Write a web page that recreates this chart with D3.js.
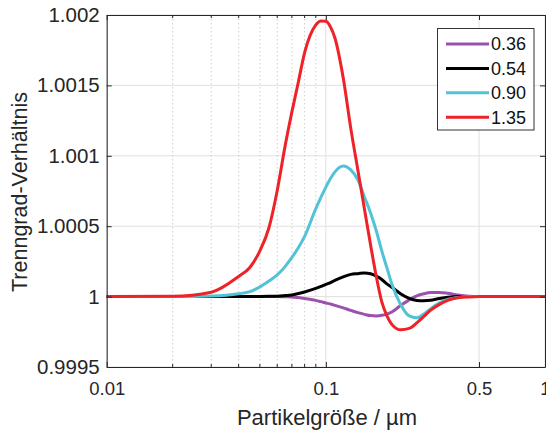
<!DOCTYPE html>
<html>
<head>
    <meta charset="utf-8">
    <title>Trenngrad-Verhältnis</title>
    <script src="https://d3js.org/d3.v7.min.js"></script>
    <style>
        body { margin: 0; background: #fff; }
        svg { display: block; font-family: "Liberation Sans", Arial, sans-serif; }
    </style>
</head>
<body>
    <div id="chart"></div>

    <script>
        // particle sizes in µm (shared x grid)
        var sizes = [0.01, 0.02, 0.03, 0.04,
                     0.045, 0.05, 0.055, 0.06, 0.065, 0.07, 0.075, 0.08,
                     0.09, 0.095, 0.1, 0.105,
                     0.11, 0.12, 0.13, 0.14, 0.15, 0.16, 0.17, 0.18, 0.19, 0.2,
                     0.22, 0.24, 0.26, 0.28, 0.3, 0.33, 0.36,
                     0.4, 0.45, 0.5, 0.6, 1];

        var series036 = [1, 1, 1, 1,
                         1, 1, 1, 1, 0.999999, 0.999998, 0.999993, 0.999987,
                         0.999973, 0.999964, 0.999955, 0.999947,
                         0.999938, 0.99992, 0.999902, 0.999886, 0.999874, 0.999865, 0.999863, 0.999867, 0.999876, 0.999891,
                         0.999938, 0.999977, 1.000005, 1.00002, 1.000029, 1.00003, 1.000024,
                         1.000012, 1.000003, 1, 1, 1];

        var series054 = [1, 1, 1, 1,
                         1, 1.000001, 1.000002, 1.000003, 1.000007, 1.000012, 1.000022, 1.000033,
                         1.000058, 1.000072, 1.000087, 1.0001,
                         1.000115, 1.00014, 1.000158, 1.000163, 1.000168, 1.000162, 1.000145, 1.000122, 1.00009, 1.000066,
                         1.000019, 0.999987, 0.999973, 0.999971, 0.999974, 0.999987, 0.999996,
                         1, 1, 1, 1, 1];

        var series090 = [1, 1, 1.000004, 1.00002,
                         1.000035, 1.000069, 1.000111, 1.000154, 1.000211, 1.000278, 1.000349, 1.000428,
                         1.000625, 1.000705, 1.000778, 1.000839,
                         1.000886, 1.000928, 1.0009, 1.00083, 1.000708, 1.000594, 1.000466, 1.000324, 1.000204, 1.00009,
                         0.999941, 0.999863, 0.999849, 0.999877, 0.999913, 0.999955, 0.99998,
                         0.999994, 1, 1, 1, 1];

        var series135 = [1, 1.000002, 1.000031, 1.000143,
                         1.000207, 1.000325, 1.000489, 1.000754, 1.00106, 1.001312, 1.001528, 1.001733,
                         1.00193, 1.001958, 1.001955, 1.001915,
                         1.001837, 1.001554, 1.001193, 1.000898, 1.000623, 1.000367, 1.00014, 0.999962, 0.999863, 0.999803,
                         0.999764, 0.999774, 0.999813, 0.999859, 0.999902, 0.999945, 0.999973,
                         0.999992, 0.999998, 1, 1, 1];

        var legendLabels = ["0.36", "0.54", "0.90", "1.35"];
        var colors = ["#9b52ad", "#000000", "#52c3d6", "#ee2229"];
        var allSeries = [series036, series054, series090, series135];

        var xTicks = [0.01, 0.1, 0.5, 1];
        var xMinor = [0.02, 0.03, 0.04, 0.05, 0.06, 0.07, 0.08, 0.09];
        var yTicks = [0.9995, 1, 1.0005, 1.001, 1.0015, 1.002];

        var width = 546, height = 432;
        var plotL = 106.7, plotR = 545, plotT = 15, plotB = 367;

        var svg = d3.select("#chart").append("svg")
            .attr("width", width)
            .attr("height", height);

        var x = d3.scaleLog().domain([0.01, 1]).range([plotL, plotR]);
        var y = d3.scaleLinear().domain([0.9995, 1.002]).range([plotB, plotT]);

        // grid
        var grid = svg.append("g");
        grid.selectAll(".ygrid").data(yTicks).enter().append("line")
            .attr("x1", plotL).attr("x2", plotR)
            .attr("y1", function(d) { return y(d); })
            .attr("y2", function(d) { return y(d); })
            .attr("stroke", "#e1e1e1").attr("stroke-width", 1);
        grid.selectAll(".xgrid").data(xTicks).enter().append("line")
            .attr("x1", function(d) { return x(d); })
            .attr("x2", function(d) { return x(d); })
            .attr("y1", plotT).attr("y2", plotB)
            .attr("stroke", "#e1e1e1").attr("stroke-width", 1);
        grid.selectAll(".xminor").data(xMinor).enter().append("line")
            .attr("x1", function(d) { return x(d); })
            .attr("x2", function(d) { return x(d); })
            .attr("y1", plotT).attr("y2", plotB)
            .attr("stroke", "#cfcfcf").attr("stroke-width", 1)
            .attr("stroke-dasharray", "1.5,2.5");

        // curves
        var line = d3.line()
            .x(function(d, i) { return x(sizes[i]); })
            .y(function(d) { return y(d); })
            .curve(d3.curveMonotoneX);

        svg.append("g").selectAll("path")
            .data(allSeries)
            .enter().append("path")
            .attr("d", line)
            .attr("fill", "none")
            .attr("stroke", function(d, i) { return colors[i]; })
            .attr("stroke-width", 3);

        // axes
        var axisColor = "#262626";
        var xAxis = svg.append("g")
            .attr("transform", "translate(0," + plotB + ")")
            .call(d3.axisBottom(x).tickValues(xTicks)
                .tickFormat(function(d) { return d3.format("")(d); })
                .tickSize(-5).tickSizeOuter(0).tickPadding(15));
        var yAxis = svg.append("g")
            .attr("transform", "translate(" + plotL + ",0)")
            .call(d3.axisLeft(y).tickValues(yTicks)
                .tickFormat(function(d) { return d3.format("")(+d.toFixed(4)); })
                .tickSize(-5).tickSizeOuter(0).tickPadding(7));
        var topAxis = svg.append("g")
            .attr("transform", "translate(0," + plotT + ")")
            .call(d3.axisTop(x).tickValues(xTicks).tickFormat("")
                .tickSize(-5).tickSizeOuter(0));
        var rightAxis = svg.append("g")
            .attr("transform", "translate(" + plotR + ",0)")
            .call(d3.axisRight(y).tickValues(yTicks).tickFormat("")
                .tickSize(-5).tickSizeOuter(0));

        // minor ticks on top and bottom
        [plotB, plotT].forEach(function(yy) {
            var dir = yy === plotB ? -3 : 3;
            svg.append("g").selectAll("line").data(xMinor).enter().append("line")
                .attr("x1", function(d) { return x(d); })
                .attr("x2", function(d) { return x(d); })
                .attr("y1", yy).attr("y2", yy + dir)
                .attr("stroke", axisColor);
        });

        [xAxis, yAxis, topAxis, rightAxis].forEach(function(a) {
            a.attr("font-family", null);
            a.selectAll("path, line").attr("stroke", axisColor);
            a.selectAll("text").attr("fill", axisColor);
        });
        xAxis.attr("font-size", 18.5);
        yAxis.attr("font-size", 20.5);

        // axis labels
        svg.append("text")
            .attr("x", 327)
            .attr("y", 425)
            .attr("text-anchor", "middle")
            .attr("font-size", 22)
            .attr("fill", axisColor)
            .text("Partikelgröße / µm");
        svg.append("text")
            .attr("transform", "translate(27,192) rotate(-90)")
            .attr("text-anchor", "middle")
            .attr("font-size", 21.5)
            .attr("fill", axisColor)
            .text("Trenngrad-Verhältnis");

        // legend
        var legend = svg.append("g");
        legend.append("rect")
            .attr("x", 437.5).attr("y", 28.5)
            .attr("width", 96.5).attr("height", 101.5)
            .attr("fill", "#fff")
            .attr("stroke", "#333").attr("stroke-width", 1);
        var rows = legend.selectAll(".row").data(legendLabels).enter().append("g")
            .attr("transform", function(d, i) { return "translate(0," + (44 + i * 24.4) + ")"; });
        rows.append("line")
            .attr("x1", 446).attr("x2", 489)
            .attr("stroke", function(d, i) { return colors[i]; })
            .attr("stroke-width", 3);
        rows.append("text")
            .attr("x", 491)
            .attr("dy", "0.35em")
            .attr("font-size", 18)
            .attr("fill", "#111")
            .text(function(d) { return d; });
    </script>
</body>
</html>
